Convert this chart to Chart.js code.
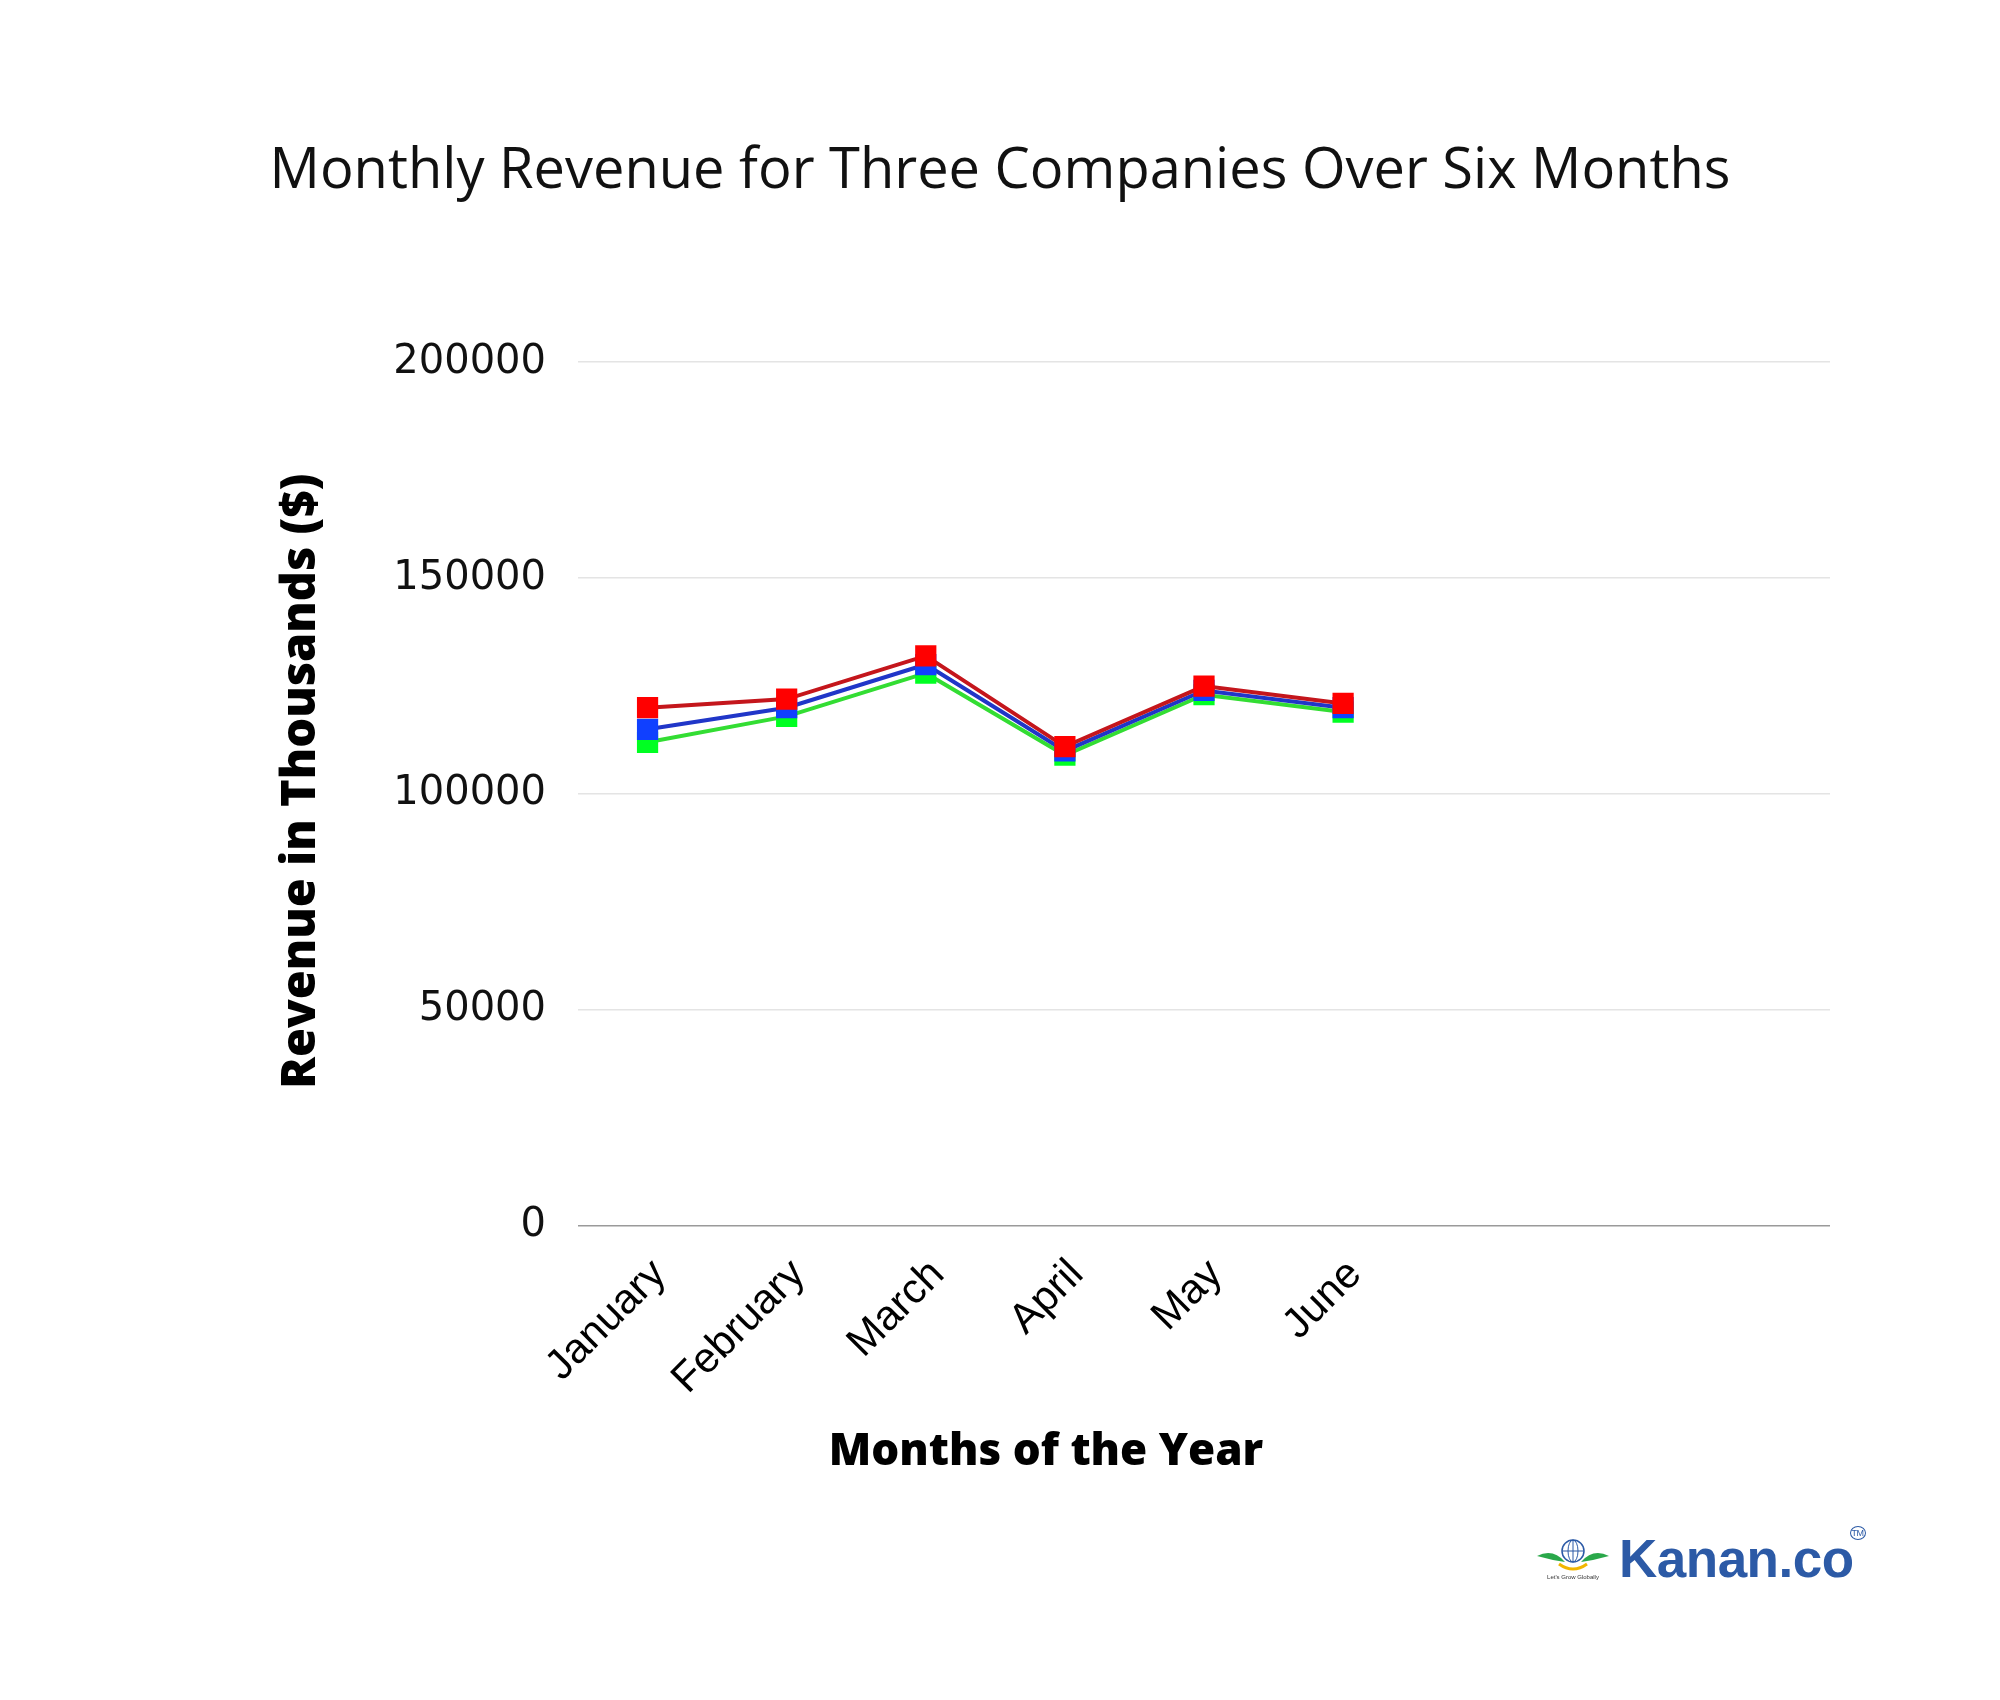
<!DOCTYPE html>
<html>
<head>
<meta charset="utf-8">
<script src="https://cdn.jsdelivr.net/npm/chart.js@4.4.1/dist/chart.umd.min.js"></script>
<style>
  html, body { margin: 0; padding: 0; background: #fff; }
  #wrap { position: relative; width: 2000px; height: 1700px; }
  #logo { position: absolute; left: 1535px; top: 1528px; height: 60px; display: flex; align-items: center; }
  #logo .brand { font-family: "Liberation Sans", Arial, sans-serif; font-weight: bold; font-size: 53px; color: #2c5aa6; letter-spacing: -0.5px; margin-left: 8px; position: relative; }
  #logo .tm { position: absolute; right: -12px; top: -2px; font-size: 9px; color: #2c5aa6; border: 1px solid #2c5aa6; border-radius: 50%; padding: 1px; font-weight: normal; }
</style>
</head>
<body>
<div id="wrap">
  <canvas id="chart" width="2000" height="1700"></canvas>
  <div id="logo">
    <svg width="76" height="48" viewBox="0 0 76 48">
      <path d="M2 22 Q18 14 30 28 Q16 26 2 22 Z" fill="#2aa84a"/>
      <path d="M74 22 Q58 14 46 28 Q60 26 74 22 Z" fill="#2aa84a"/>
      <path d="M24 30 Q38 40 52 30" stroke="#f2b600" stroke-width="3" fill="none"/>
      <circle cx="38" cy="17" r="11" fill="none" stroke="#2c5aa6" stroke-width="1.5"/>
      <ellipse cx="38" cy="17" rx="5" ry="11" fill="none" stroke="#2c5aa6" stroke-width="1"/>
      <line x1="27" y1="17" x2="49" y2="17" stroke="#2c5aa6" stroke-width="1"/>
      <line x1="38" y1="6" x2="38" y2="28" stroke="#2c5aa6" stroke-width="1"/>
      <text x="38" y="45" font-size="6" font-family="Liberation Sans" text-anchor="middle" fill="#333">Let's Grow Globally</text>
    </svg>
    <span class="brand">Kanan.co<span class="tm">TM</span></span>
  </div>
</div>
<script>
// months on the x axis, three empty slots stay at the right end
const months = ['January', 'February', 'March', 'April', 'May', 'June', '', '', ''];

// revenue values
const companyA = [120000, 122000, 132000, 111000, 125000, 121000, null, null, null];
const companyB = [115000, 120000, 130000, 110000, 124000, 120000, null, null, null];
const companyC = [112000, 118000, 128000, 109000, 123000, 119000, null, null, null];

const yTicks = [0, 50000, 100000, 150000, 200000];

const xTitle = 'Months of the Year';
const yTitle = 'Revenue in Thousands ($)';

// axis titles are a bit off the plot centre in the original, so draw them here
const axisTitles = {
  id: 'axisTitles',
  afterDraw(chart) {
    const { ctx, chartArea } = chart;
    const xs = chart.scales.x;
    ctx.save();
    ctx.fillStyle = '#000';
    ctx.textAlign = 'center';
    ctx.textBaseline = 'middle';
    ctx.font = '800 44px "Open Sans"';
    ctx.fillText(xTitle, xs.left + 468, xs.bottom - 24);
    ctx.translate(chartArea.left - 276, chartArea.top + 419);
    ctx.rotate(-Math.PI / 2);
    ctx.font = '800 47px "Open Sans"';
    ctx.fillText(yTitle, 0, 0);
    ctx.restore();
  },
};

const ctx = document.getElementById('chart').getContext('2d');

new Chart(ctx, {
  type: 'line',
  data: {
    labels: months,
    datasets: [
      {
        label: 'Company A',
        data: companyA,
        borderColor: '#c4161c',
        backgroundColor: '#ff0000',
        pointBackgroundColor: '#ff0000',
        pointBorderColor: '#ff0000',
      },
      {
        label: 'Company B',
        data: companyB,
        borderColor: '#2036c8',
        backgroundColor: '#1040ff',
        pointBackgroundColor: '#1040ff',
        pointBorderColor: '#1040ff',
      },
      {
        label: 'Company C',
        data: companyC,
        borderColor: '#33dd33',
        backgroundColor: '#00ff22',
        pointBackgroundColor: '#00ff22',
        pointBorderColor: '#00ff22',
      },
    ].map((ds) => ({
      ...ds,
      borderWidth: 4,
      pointStyle: 'rect',
      pointRadius: 15,
      pointBorderWidth: 0,
      tension: 0,
      fill: false,
    })),
  },
  plugins: [axisTitles],
  options: {
    responsive: false,
    devicePixelRatio: 1,
    animation: false,
    layout: {
      padding: { left: 170, right: 170, top: 0, bottom: 224 },
    },
    plugins: {
      legend: { display: false },
      tooltip: { enabled: false },
      title: {
        display: true,
        text: 'Monthly Revenue for Three Companies Over Six Months',
        color: '#111',
        font: { family: 'Open Sans', size: 56, weight: 'normal' },
        padding: { top: 138, bottom: 157 },
      },
    },
    scales: {
      x: {
        offset: true,
        grid: { display: false },
        border: { display: false },
        ticks: {
          color: '#000',
          font: { family: 'Liberation Sans', size: 42 },
          minRotation: 45,
          maxRotation: 45,
          padding: 16,
          labelOffset: 12,
          autoSkip: false,
        },
        afterFit: (scale) => { scale.height = 250; },
      },
      y: {
        min: 0,
        max: 200000,
        border: { display: false },
        grid: {
          drawTicks: false,
          color: (c) => (c.tick && c.tick.value === 0 ? '#9a9a9a' : '#e4e4e4'),
          lineWidth: 1.5,
        },
        afterBuildTicks: (scale) => { scale.ticks = yTicks.map((v) => ({ value: v })); },
        ticks: {
          color: '#111',
          font: { family: 'DejaVu Sans', size: 40 },
          padding: 32,
          callback: (v) => String(v),
        },
        afterFit: (scale) => { scale.width = 408; },
      },
    },
  },
});
</script>
</body>
</html>
